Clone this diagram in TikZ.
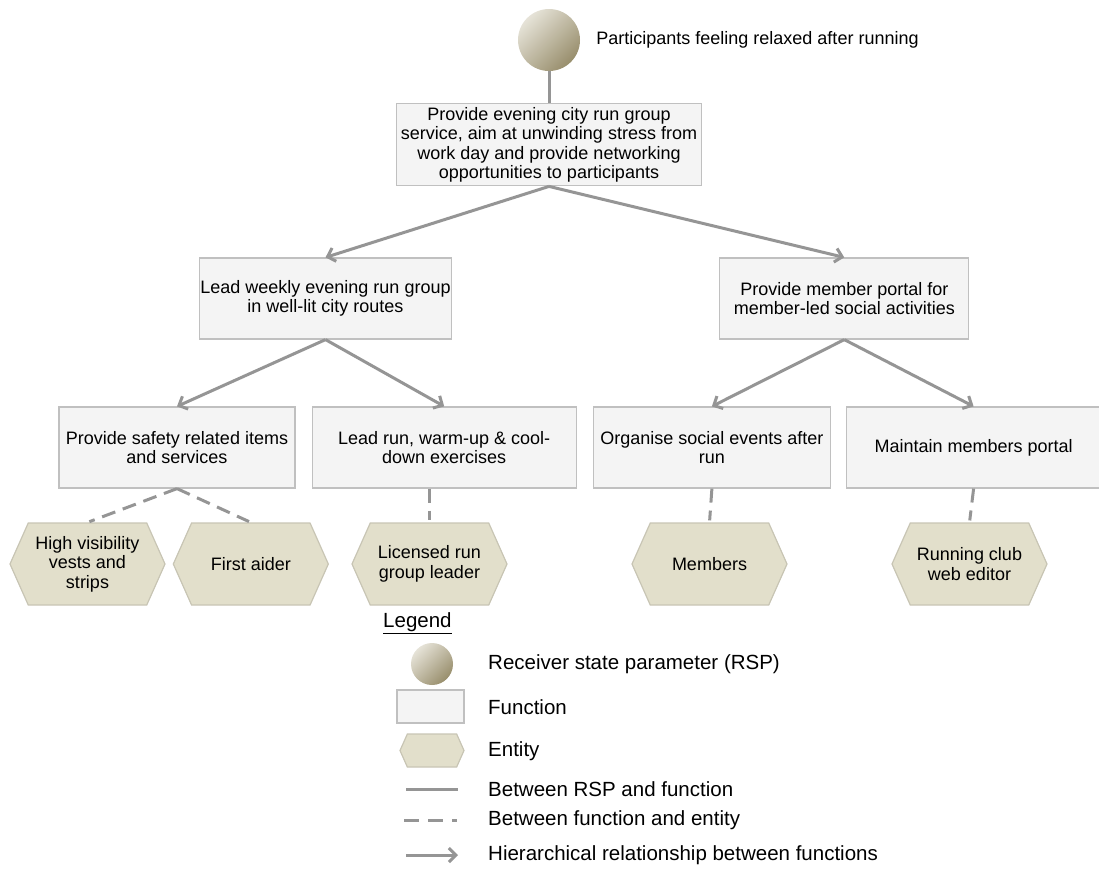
\documentclass[tikz,border=0pt]{standalone}
\usepackage{fontspec}
\setmainfont{Liberation Sans}
\usetikzlibrary{arrows.meta, positioning, shapes.symbols}
\definecolor{FnFill}{HTML}{F4F4F4}
\definecolor{FnLine}{HTML}{C0C0C0}
\definecolor{EntFill}{HTML}{E2DFCB}
\definecolor{EntLine}{HTML}{C8C5B4}
\definecolor{RspLight}{HTML}{E6E3D8}
\definecolor{RspDark}{HTML}{988E6C}
\definecolor{LinkGray}{HTML}{959595}
\newcommand{\boxfont}{\fontsize{18}{19.5}\selectfont}
\newcommand{\legfont}{\fontsize{20.5}{23}\selectfont}

\begin{document}
\begin{tikzpicture}[
    x=1pt, y=1pt,
    rsp/.style={circle, minimum size=#1, inner sep=0pt,
        top color=RspLight, bottom color=RspDark, shading angle=45},
    rsp/.default=62pt,
    fn/.style={rectangle, draw=FnLine, line width=1.2pt, fill=FnFill,
        minimum width=#1, minimum height=81pt, inner xsep=1pt,
        inner ysep=2pt, font=\boxfont, align=center},
    fn/.default=249pt,
    ent/.style={signal, signal to=west and east, signal pointer angle=132,
        draw=EntLine, line width=1.2pt, fill=EntFill,
        minimum width=155pt, minimum height=82pt, inner sep=1pt,
        font=\boxfont, align=center},
    rel/.style={line width=3pt, LinkGray},
    link/.style={rel, dash pattern=on 14pt off 8pt},
    hier/.style={rel, -{Straight Barb[length=7pt, width=14pt]}},
    lbl/.style={font=\boxfont, anchor=west, inner sep=2pt},
    legtxt/.style={font=\legfont, anchor=west, inner sep=2pt},
    node distance=16pt
]
\useasboundingbox (0,0) rectangle (1099,-868);

% Receiver state parameter
\node[rsp] (rsp) at (549,-40) {};
\node[lbl, right=14pt of rsp] (rsptxt) {Participants feeling relaxed after running};

% Functions
\node[fn=305pt, minimum height=82pt, below=32pt of rsp] (top)
    {Provide evening city run group\\service, aim at unwinding stress from\\
     work day and provide networking\\opportunities to participants};

\node[fn] (lead) at (325.5,-298.5)
    {Lead weekly evening run group\\in well-lit city routes};
\node[fn, right=267pt of lead] (portal)
    {Provide member portal for\\member-led social activities};

\node[fn=236pt] (safety) at (177,-447.5)
    {Provide safety related items\\and services};
\node[fn=264pt, right=of safety] (leadrun)
    {Lead run, warm-up \& cool-\\down exercises};
\node[fn=237pt, right=of leadrun] (social)
    {Organise social events after\\run};
\node[fn=254pt, right=15pt of social] (maint)
    {Maintain members portal};

% Entities
\node[ent] (vests) at (87.5,-564) {High visibility\\vests and\\strips};
\node[ent, right=7pt of vests] (aider) {First aider};
\node[ent] (leader) at (429.5,-564) {Licensed run\\group leader};
\node[ent] (members) at (709.5,-564) {Members};
\node[ent] (editor) at (969.5,-564) {Running club\\web editor};

% Connectors
\draw[rel] (rsp) -- (top);
\foreach \a/\b in {top/lead, top/portal, lead/safety, lead/leadrun,
                   portal/social, portal/maint} {
    \draw[hier] (\a.south) -- (\b.north);
}
\foreach \a/\b in {safety/vests, safety/aider, social/members, maint/editor} {
    \draw[link, shorten >=2pt] (\a.south) -- (\b.north);
}
\draw[link, shorten >=2pt] (leader.north |- leadrun.south) -- (leader.north);

% Legend
\node[legtxt] (legtitle) at (381,-623) {\underline{Legend}};
\foreach \n/\y/\t in {1/664/Receiver state parameter (RSP), 2/707/Function,
                      3/751/Entity, 4/789/Between RSP and function,
                      5/820/Between function and entity,
                      6/855/Hierarchical relationship between functions} {
    \node[legtxt] (lt\n) at (486,-\y) {\t};
}
\node[rsp=42pt] (lrsp) at (432,-664) {};
\node[fn=67pt, minimum height=33pt] (lfn) at (430.5,-706.5) {};
\node[ent, minimum width=64pt, minimum height=33pt] (lent) at (432,-750.5) {};
\coordinate (ls1) at (406,-789);
\coordinate (ls2) at (458,-789);
\coordinate (ld1) at (404,-820);
\coordinate (ld2) at (457,-820);
\coordinate (la1) at (406,-855);
\coordinate (la2) at (458,-855);
\draw[rel] (ls1) -- (ls2);
\draw[rel, dash pattern=on 15pt off 9pt] (ld1) -- (ld2);
\draw[hier] (la1) -- (la2);

\end{tikzpicture}
\end{document}
